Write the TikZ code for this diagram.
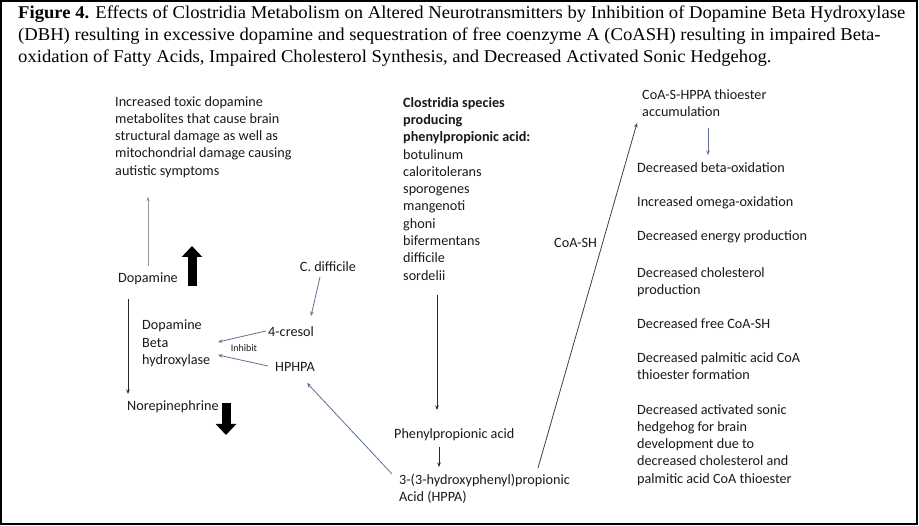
\documentclass[tikz,border=0pt]{standalone}
\usepackage{fontspec}
\setmainfont{Carlito}
\newfontfamily\titlefont[FakeStretch=1.035]{Liberation Serif}
\usetikzlibrary{arrows.meta,calc}
\definecolor{txt}{RGB}{25,25,25}
\definecolor{slate}{RGB}{95,110,145}
\definecolor{lgray}{RGB}{150,150,150}
\tikzset{
  lbl/.style={inner sep=0pt, text=txt, font=\fontsize{14.2}{17.3}\selectfont, align=left},
  tip/.style={-{Stealth[length=4.5pt,width=3.5pt]}},
  blk/.style={tip, draw=black!85, line width=0.8pt},
  slt/.style={tip, draw=slate, line width=0.8pt},
  gry/.style={tip, draw=lgray, line width=0.8pt},
  fat/.style={line width=9pt, -{Triangle[length=11pt,width=20pt]}, draw=black}
}
\begin{document}
\begin{tikzpicture}[x=1pt,y=-1pt]
\useasboundingbox (0,0) rectangle (919,526);
\draw[line width=2pt] (1,1) rectangle (917,524);

\node[inner sep=0pt, anchor=north west, align=left, text=black,
  font=\titlefont\fontsize{18}{22}\selectfont] (title) at (18,6)
 {\textbf{Figure 4.} Effects of Clostridia Metabolism on Altered Neurotransmitters by Inhibition of Dopamine Beta Hydroxylase\\
 (DBH) resulting in excessive dopamine and sequestration of free coenzyme A (CoASH) resulting in impaired Beta-\\
 oxidation of Fatty Acids, Impaired Cholesterol Synthesis, and Decreased Activated Sonic Hedgehog.};

% left part
\node[lbl, anchor=north west] (tox) at (115,96)
 {Increased toxic dopamine\\metabolites that cause brain\\structural damage as well as\\mitochondrial damage causing\\autistic symptoms};
\node[lbl, anchor=west] (dop) at (118,279) {Dopamine};
\node[lbl, anchor=north west] (dbh) at (142,320) {Dopamine\\Beta\\hydroxylase};
\node[lbl, anchor=west] (nor) at (127,407) {Norepinephrine};
\node[lbl, anchor=center] (cdiff) at (328,267) {C. difficile};
\node[lbl, anchor=west] (cres) at (268,332) {4-cresol};
\node[lbl, anchor=west] (hphpa) at (275,367) {HPHPA};
\node[inner sep=0pt, text=txt, font=\fontsize{10}{12}\selectfont] (inh) at (244,348) {Inhibit};

% middle
\node[lbl, anchor=north west] (clos) at (403,97)
 {\textbf{Clostridia species}\\\textbf{producing}\\\textbf{phenylpropionic acid:}\\botulinum\\caloritolerans\\sporogenes\\mangenoti\\ghoni\\bifermentans\\difficile\\sordelii};
\node[lbl, anchor=west] (ppa) at (394,435) {Phenylpropionic acid};
\node[lbl, anchor=north west] (hppa) at (399,474) {3-(3-hydroxyphenyl)propionic\\Acid (HPPA)};
\node[lbl, anchor=west] (coash) at (554,243) {CoA-SH};

% right
\node[lbl, anchor=north west] (coas) at (642,89) {CoA-S-HPPA thioester\\accumulation};
\node[lbl, anchor=west] (d1) at (637,168) {Decreased beta-oxidation};
\node[lbl, anchor=west] (d2) at (637,203) {Increased omega-oxidation};
\node[lbl, anchor=west] (d3) at (637,237) {Decreased energy production};
\node[lbl, anchor=north west] (d4) at (637,267) {Decreased cholesterol\\production};
\node[lbl, anchor=west] (d5) at (637,324) {Decreased free CoA-SH};
\node[lbl, anchor=north west] (d6) at (637,352) {Decreased palmitic acid CoA\\thioester formation};
\node[lbl, anchor=north west] (d7) at (637,404) {Decreased activated sonic\\hedgehog for brain\\development due to\\decreased cholesterol and\\palmitic acid CoA thioester};

% connectors
\draw[gry] ($(dop.west)+(30,-13)$) -- ($(tox.south west)+(33,19)$);
\draw[blk] ($(nor.west)+(1,-108)$) -- ($(nor.west)+(1,-13)$);
\draw[slt] ($(cdiff.center)+(-8,10)$) -- ($(cres.west)+(43,-16)$);
\draw[slt] ($(cres.west)+(-2,-1)$) -- ($(dbh.north west)+(76,22)$);
\draw[slt] ($(hphpa.west)+(-7,-1)$) -- ($(dbh.north west)+(76,35)$);
\draw[slt] ($(hppa.north west)+(-7,0)$) -- ($(hphpa.west)+(32,16)$);
\draw[blk] ($(clos.north west)+(34,198)$) -- ($(ppa.west)+(43,-25)$);
\draw[blk] ($(ppa.west)+(45,12)$) -- ($(ppa.west)+(45,32)$);
\draw[blk, draw=black!75] ($(hppa.north west)+(139,-6)$) -- ($(coas.north west)+(-5,34)$);
\draw[slt] ($(coas.north west)+(66,39)$) -- ($(d1.west)+(71,-13)$);

% thick indicator arrows
\draw[fat] (192,286) -- (192,246);
\draw[fat] (226,403) -- (226,435);
\end{tikzpicture}
\end{document}
